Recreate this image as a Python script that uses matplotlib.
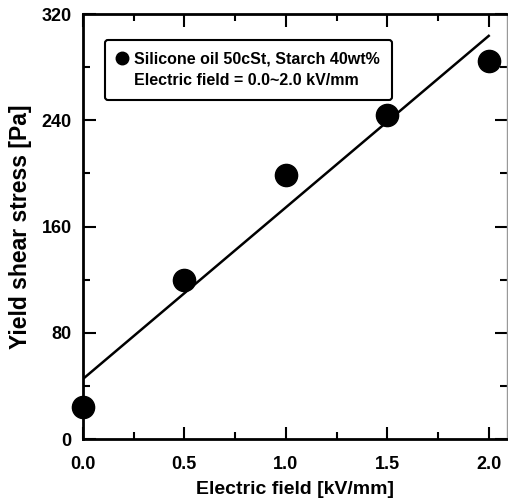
import matplotlib
matplotlib.use("Agg")
import matplotlib.pyplot as plt
from matplotlib.lines import Line2D
from matplotlib.ticker import MultipleLocator
import numpy as np

# data
field = [0.0, 0.5, 1.0, 1.5, 2.0]          # kV/mm
stress = [24, 120, 199, 244, 285]          # Pa

xticks = [0.0, 0.5, 1.0, 1.5, 2.0]
xtick_labels = ["0.0", "0.5", "1.0", "1.5", "2.0"]
yticks = [0, 80, 160, 240, 320]

plt.rcParams['font.family'] = ['Liberation Sans', 'DejaVu Sans']
plt.rcParams['font.weight'] = 'bold'

fig = plt.figure(figsize=(5.08, 5.03), dpi=100)
ax = fig.add_axes([0.163, 0.127, 0.835, 0.845])

# linear fit line
coef = np.polyfit(field, stress, 1)
xfit = np.array([field[0], field[-1]])
ax.plot(xfit, np.polyval(coef, xfit), color='black', lw=1.8, zorder=2)

ax.plot(field, stress, 'o', color='black', ms=16, zorder=3, clip_on=False)

ax.set_xlim(0, 2.09)
ax.set_ylim(0, 320)
ax.set_xticks(xticks)
ax.set_xticklabels(xtick_labels)
ax.set_yticks(yticks)
ax.xaxis.set_minor_locator(MultipleLocator(0.25))
ax.yaxis.set_minor_locator(MultipleLocator(40))
ax.tick_params(which='both', direction='in', top=True, right=True, width=1.5,
               labelsize=13)
ax.tick_params(axis='x', pad=12)
ax.tick_params(axis='y', pad=8)
ax.tick_params(which='major', length=9)
ax.tick_params(which='minor', length=5)
for s in ax.spines.values():
    s.set_linewidth(2)
ax.spines['right'].set_color('0.6')
ax.spines['right'].set_linewidth(1)

ax.set_xlabel("Electric field [kV/mm]", fontsize=14, fontweight='bold', labelpad=6)
ax.set_ylabel("Yield shear stress [Pa]", fontsize=16.5, fontweight='bold', labelpad=7)

handles = [Line2D([], [], marker='o', color='black', ls='none', ms=9),
           Line2D([], [], ls='none')]
labels = ["Silicone oil 50cSt, Starch 40wt%", "Electric field = 0.0~2.0 kV/mm"]
leg = ax.legend(handles, labels, loc='upper left', bbox_to_anchor=(0.052, 0.94),
                frameon=True, fancybox=True, handlelength=0.7, handletextpad=0.4,
                borderpad=0.75, borderaxespad=0, labelspacing=0.4,
                prop={'size': 11.5, 'weight': 'bold'})
leg.get_frame().set_edgecolor('black')
leg.get_frame().set_linewidth(1.5)
leg.get_frame().set_alpha(1)

fig.savefig("out.png", dpi=100)
